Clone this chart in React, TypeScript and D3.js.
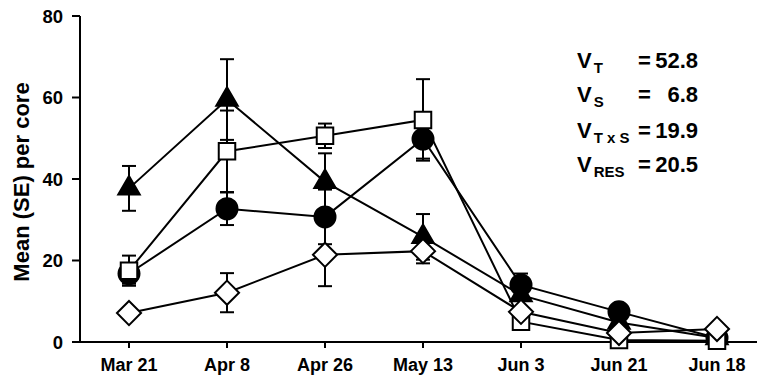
import React, { useEffect, useRef } from 'react';
import * as d3 from 'd3';

// sampling dates (x categories, kept in the original order)
const dates = ['Mar 21', 'Apr 8', 'Apr 26', 'May 13', 'Jun 3', 'Jun 21', 'Jun 18'];

// series means and standard errors
const triangleMean = [37.7, 59.5, 39.3, 25.8, 11.5, 4.8, 1.0];
const triangleSE = [5.5, 9.9, 7.0, 5.6, 0, 0, 0];
const squareMean = [17.5, 46.8, 50.6, 54.5, 5.0, 0.5, 0.3];
const squareSE = [3.7, 10.0, 3.0, 10.0, 0, 0, 0];
const circleMean = [16.8, 32.7, 30.7, 49.8, 14.0, 7.4, 1.0];
const circleSE = [2.5, 4.0, 6.7, 4.8, 2.8, 0, 0];
const diamondMean = [7.1, 12.1, 21.4, 22.3, 7.4, 2.2, 3.2];
const diamondSE = [0, 4.8, 7.7, 3.0, 0, 0, 0];

const yTicks = [0, 20, 40, 60, 80];

// variance components shown at top right
const annotSubs = ['T', 'S', 'T x S', 'RES'];
const annotValues = ['52.8', '6.8', '19.9', '20.5'];

const FONT = '"Liberation Sans", Arial, Helvetica, sans-serif';

const App = () => {
    const svgRef = useRef<SVGSVGElement>(null);

    useEffect(() => {
        const width = 757;
        const height = 375;
        const svg = d3.select(svgRef.current);
        svg.selectAll('*').remove();
        svg.attr('width', width).attr('height', height);

        const x = d3.scalePoint<string>().domain(dates).range([80, 766]).padding(0.5);
        const y = d3.scaleLinear().domain([0, 80]).range([342, 16]);

        const series = [
            { key: 'circle', mean: circleMean, se: circleSE },
            { key: 'triangle', mean: triangleMean, se: triangleSE },
            { key: 'square', mean: squareMean, se: squareSE },
            { key: 'diamond', mean: diamondMean, se: diamondSE },
        ];

        // axes
        svg.append('line')
            .attr('x1', 80).attr('x2', 80)
            .attr('y1', y(80)).attr('y2', y(0))
            .attr('stroke', '#000').attr('stroke-width', 2);
        svg.append('line')
            .attr('x1', 79).attr('x2', width)
            .attr('y1', y(0)).attr('y2', y(0))
            .attr('stroke', '#000').attr('stroke-width', 2);

        yTicks.forEach(t => {
            svg.append('line')
                .attr('x1', 72).attr('x2', 80)
                .attr('y1', y(t)).attr('y2', y(t))
                .attr('stroke', '#000').attr('stroke-width', 2);
            svg.append('text')
                .attr('x', 63).attr('y', y(t))
                .attr('dy', '0.36em')
                .attr('text-anchor', 'end')
                .attr('font-family', FONT).attr('font-weight', 'bold')
                .attr('font-size', 18.5)
                .text(t);
        });

        dates.forEach(d => {
            svg.append('line')
                .attr('x1', x(d)!).attr('x2', x(d)!)
                .attr('y1', y(0)).attr('y2', y(0) + 6)
                .attr('stroke', '#000').attr('stroke-width', 2);
            svg.append('text')
                .attr('x', x(d)!).attr('y', 371)
                .attr('text-anchor', 'middle')
                .attr('font-family', FONT).attr('font-weight', 'bold')
                .attr('font-size', 18)
                .text(d);
        });

        svg.append('text')
            .attr('transform', 'translate(29,182) rotate(-90)')
            .attr('text-anchor', 'middle')
            .attr('font-family', FONT).attr('font-weight', 'bold')
            .attr('font-size', 22)
            .text('Mean (SE) per core');

        // connecting lines
        const line = d3.line<number>()
            .x((_, i) => x(dates[i])!)
            .y(v => y(v));

        series.forEach(s => {
            svg.append('path')
                .attr('d', line(s.mean))
                .attr('fill', 'none')
                .attr('stroke', '#000')
                .attr('stroke-width', 2);
        });

        // error bars
        series.forEach(s => {
            s.mean.forEach((m, i) => {
                if (!s.se[i]) return;
                const cx = x(dates[i])!;
                const top = y(m + s.se[i]);
                const bot = y(m - s.se[i]);
                svg.append('line')
                    .attr('x1', cx).attr('x2', cx)
                    .attr('y1', top).attr('y2', bot)
                    .attr('stroke', '#000').attr('stroke-width', 2);
                [top, bot].forEach(yy => {
                    svg.append('line')
                        .attr('x1', cx - 7).attr('x2', cx + 7)
                        .attr('y1', yy).attr('y2', yy)
                        .attr('stroke', '#000').attr('stroke-width', 2);
                });
            });
        });

        // markers
        const shape = (key: string) => {
            if (key === 'circle') return d3.symbol(d3.symbolCircle, Math.PI * 10.5 * 10.5)();
            if (key === 'triangle') return d3.symbol(d3.symbolTriangle, 200)();
            if (key === 'square') return d3.symbol(d3.symbolSquare, 16.5 * 16.5)();
            return d3.symbol(d3.symbolDiamond2, 370)();
        };

        series.forEach(s => {
            const filled = s.key === 'circle' || s.key === 'triangle';
            svg.append('g')
                .selectAll('path')
                .data(s.mean)
                .enter()
                .append('path')
                .attr('transform', (v, i) => `translate(${x(dates[i])},${y(v)})`)
                .attr('d', shape(s.key))
                .attr('fill', filled ? '#000' : '#fff')
                .attr('stroke', '#000')
                .attr('stroke-width', 2);
        });

        // variance annotation
        const rowY = [68, 102, 138, 172];
        annotSubs.forEach((sub, i) => {
            const t = svg.append('text')
                .attr('x', 577).attr('y', rowY[i])
                .attr('font-family', FONT).attr('font-weight', 'bold')
                .attr('font-size', 22);
            t.append('tspan').text('V');
            t.append('tspan')
                .attr('dy', 5)
                .attr('dx', 2)
                .attr('font-size', 15)
                .text(sub);
            svg.append('text')
                .attr('x', 638).attr('y', rowY[i])
                .attr('font-family', FONT).attr('font-weight', 'bold')
                .attr('font-size', 22)
                .text('=');
            svg.append('text')
                .attr('x', 698).attr('y', rowY[i])
                .attr('text-anchor', 'end')
                .attr('font-family', FONT).attr('font-weight', 'bold')
                .attr('font-size', 22)
                .text(annotValues[i]);
        });
    }, []);

    return (
        <svg
            ref={svgRef}
            style={{ position: 'absolute', left: 0, top: 0, background: '#fff' }}
        />
    );
};

export default App;
